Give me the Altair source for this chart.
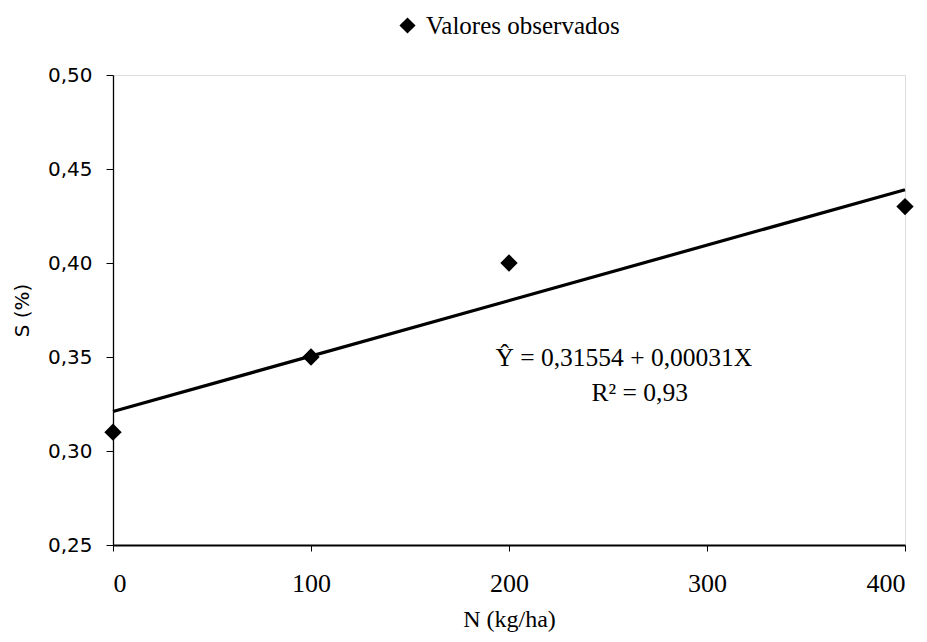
import altair as alt
import pandas as pd

# observed values
obs_x = [0, 100, 200, 400]
obs_y = [0.31, 0.35, 0.40, 0.43]
series_name = "Valores observados"

# fitted line as drawn
line_x = [0, 400]
line_y = [0.321, 0.439]

# annotation
eq_lines = ["Ŷ = 0,31554 + 0,00031X", "R² = 0,93"]
eq_x = [258, 266]
eq_y = [0.3495, 0.331]

x_ticks = [0, 100, 200, 300, 400]
y_ticks = [0.25, 0.30, 0.35, 0.40, 0.45, 0.50]

obs = pd.DataFrame({"x": obs_x, "y": obs_y, "s": [series_name] * len(obs_x)})
fit = pd.DataFrame({"x": line_x, "y": line_y})
ann = pd.DataFrame({"x": eq_x, "y": eq_y, "t": eq_lines})

xscale = alt.Scale(domain=[0, 400], nice=False, zero=False)
yscale = alt.Scale(domain=[0.25, 0.50], nice=False, zero=False)

xaxis = alt.Axis(values=x_ticks, title="N (kg/ha)", grid=False, domainColor="black",
                 domainWidth=1.8, tickColor="black", tickSize=6, labelPadding=19,
                 labelFont="Liberation Serif", labelFontSize=26, labelColor="black",
                 titleFont="Liberation Serif", titleFontSize=24, titleFontWeight="normal",
                 titleColor="black", titlePadding=11)
yaxis = alt.Axis(values=y_ticks, title="S (%)", grid=False, domainColor="black",
                 domainWidth=1.3, tickColor="black", tickSize=7, labelPadding=14,
                 labelExpr="replace(format(datum.value, '.2f'), '.', ',')",
                 labelFont="DejaVu Sans", labelFontSize=20, labelColor="black",
                 titleFont="DejaVu Sans", titleFontSize=20, titleFontWeight="normal",
                 titleColor="black", titlePadding=15)

points = alt.Chart(obs).mark_point(shape="diamond", filled=True, size=300, opacity=1).encode(
    x=alt.X("x:Q", scale=xscale, axis=xaxis),
    y=alt.Y("y:Q", scale=yscale, axis=yaxis),
    color=alt.Color("s:N", scale=alt.Scale(range=["black"]),
                    legend=alt.Legend(title=None, orient="none", legendX=282, legendY=-62,
                                      labelFont="Liberation Serif", labelFontSize=25,
                                      labelColor="black", symbolSize=260, labelLimit=0,
                                      symbolType="diamond", labelOffset=6)),
)

line = alt.Chart(fit).mark_line(color="black", strokeWidth=3.2).encode(
    x=alt.X("x:Q", scale=xscale),
    y=alt.Y("y:Q", scale=yscale),
)

text = alt.Chart(ann).mark_text(font="Liberation Serif", fontSize=25.5, color="black",
                                align="center", baseline="middle").encode(
    x=alt.X("x:Q", scale=xscale),
    y=alt.Y("y:Q", scale=yscale),
    text="t:N",
)

chart = alt.layer(line, points, text).properties(
    width=792, height=470,
    autosize=alt.AutoSizeParams(type="none"),
    padding={"left": 105, "top": 67, "right": 14, "bottom": 89},
).configure_view(stroke=None).configure(background="white")

chart.save("out.html", embed_options={"renderer": "svg", "actions": False})
